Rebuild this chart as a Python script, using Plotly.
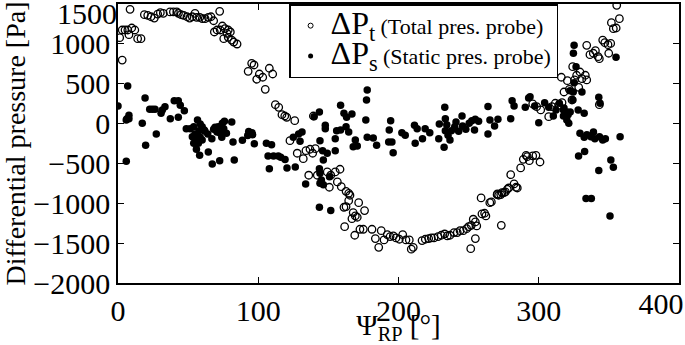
import plotly.graph_objects as go

# ΔPt (total pressure probe) – open circles
pt_x = [1.2, 3, 3, 5, 7, 7.8, 8.6, 9.8, 12, 14, 16.4, 18.8, 21.2, 23.5, 25.9, 28.3, 30.2, 32.3,
        37.1, 39.5, 41.9, 43.1, 45, 46.8, 49.2, 51.1, 53, 54.9, 56.1, 58.3, 60.1, 62.1, 64.4, 66.3,
        68.2, 68.7, 70.6, 72.5, 72.9, 74.4, 75.4, 76.3, 77.7, 78.6, 78.6, 80.1, 81.1, 82.5, 84.9,
        92.8, 95.3, 97, 98.9, 100.8, 103.2, 105, 107.9, 110.3, 112.2, 114.6, 116.9, 118.9, 120.3,
        122.6, 126, 127.8, 132.1, 134, 136, 136.9, 138.8, 139.3, 140.7, 142.1, 149.2, 150.7, 151.7,
        154.9, 156.4, 158.3, 159.2, 161.1, 161.6, 162.6, 162.6, 164.5, 164.5, 165.4, 166.8, 167.7,
        168.8, 169.2, 170.6, 171.6, 172.5, 174.9, 175.8, 181.1, 183.5, 185.9, 187.7, 189.7, 192,
        194, 196.3, 198.2, 200.6, 203, 205.3, 207.7, 209.1, 210.5, 216.8, 219.1, 221.5, 223.4,
        225.3, 228.2, 230.5, 232.9, 234.8, 236.7, 239.6, 241.9, 243.9, 246.2, 248.6, 250, 251.5,
        251.9, 253.3, 254.8, 254.8, 255.8, 258.9, 259.5, 261.4, 262.3, 265.1, 266.2, 270.3, 270.5,
        271.4, 272.9, 273.3, 273.8, 275.2, 276.2, 277.6, 278.6, 280, 282.4, 283.8, 284.7, 287.1,
        289, 291, 291.8, 293.3, 295.7, 298, 300.9, 295.7, 298.5, 301.4, 307.1, 309.4, 311.8, 314.2,
        316.6, 316.1, 318, 320.4, 321.8, 323.7, 324.2, 325.6, 327, 328.5, 329.4, 330.8, 333.2,
        334.2, 334.2, 336.5, 338.9, 340.4, 342.3, 343.2, 343.2, 345.6, 347.1, 349.4, 349.9, 351.3,
        351.8, 353.2, 355.2, 355.6, 357.5]
pt_y = [1077, 797, 1174, 1174, 1174, 1115, 1433, 1199, 1174, 1065, 1065, 1366, 1358, 1340, 1324,
        1374, 1391, 1383, 1400, 1400, 1400, 1383, 1366, 1358, 1340, 1324, 1340, 1383, 1333, 1333,
        1316, 1316, 1333, 1340, 1290, 1149, 1174, 1408, 1174, 1224, 1065, 1190, 1132, 1174, 1082,
        1149, 1048, 1023, 998, 655, 756, 735, 556, 622, 581, 430, 694, 622, 237, 204, 112, 95, 79,
        -214, 36, -372, -440, -340, -648, -322, -372, 95, -315, -648, -607, -799, -648, -607, -732,
        -573, -791, -1050, -1293, -850, -1042, -875, -967, -899, -1193, -1117, -1401, -1159, -1175,
        -992, -1326, -1326, -1092, -1326, -1443, -1552, -1343, -1460, -1393, -1418, -1410, -1435,
        -1451, -1393, -1460, -1460, -1576, -1552, -1468, -1451, -1443, -1435, -1435, -1418, -1401,
        -1385, -1410, -1401, -1368, -1368, -1343, -1343, -1318, -1293, -1569, -1276, -1200, -1234,
        -1443, -1284, -933, -1134, -1125, -1159, -992, -983, -892, -882, -899, -891, -1276, -866,
        -866, -858, -824, -808, -641, -757, -799, -808, -557, -448, -398, -415, -465, -406, -398,
        -482, 246, 212, 171, 87, 212, 255, 229, 262, 581, 396, 538, 430, 296, 714, 547, 606, 455,
        647, 563, 606, 547, 982, 864, 882, 914, 839, 814, 237, 1048, 1015, 990, 882, 1006, 1266,
        1190, 1199, 1483, 1316]

# ΔPs (static pressure probe) – filled circles
ps_x = [0, 5.9, 5.9, 6.4, 6.9, 7.8, 7.8, 17.3, 19.3, 19.7, 22.6, 24.5, 26.4, 27.3, 30.7, 31.6,
        33.5, 37.3, 40.1, 43, 43, 44.4, 47.3, 48.7, 51.5, 53, 54, 54, 54.9, 55.9, 55.9, 56.7, 57.3,
        57.8, 58.2, 58.6, 58.6, 60, 60, 61.5, 62, 64, 64.4, 66.9, 67.2, 68.2, 69.2, 70.6, 71.5,
        72.5, 72.9, 74, 74.4, 75.4, 75.9, 77.3, 81.1, 82, 82.9, 88.7, 93.2, 92.5, 95.5, 96, 97.2,
        105.8, 109.5, 107, 110.9, 114.3, 116, 119.1, 107.9, 120.5, 126.4, 133.8, 125, 128.8, 131.2,
        129.8, 139.8, 143.6, 144, 145.9, 147.8, 147.8, 149.2, 154.9, 146.4, 143.6, 144, 145, 146.4,
        144, 150.8, 143.6, 151.7, 158.7, 161.1, 163, 166.8, 155.9, 158.7, 162.6, 164.5, 154.9,
        169.2, 167.7, 170.6, 177.7, 176.7, 177.7, 177.2, 182, 184.4, 194.4, 193.4, 193, 195.3,
        196.2, 202.4, 204.8, 211.4, 213.3, 211.9, 219, 222.3, 217.1, 229.1, 228.7, 233, 233.4,
        234.4, 232.5, 233.4, 235.3, 236.7, 237.7, 240.1, 241, 242.9, 245.3, 245.7, 248, 250.4,
        252.3, 254.7, 257.1, 254.2, 263.8, 263.8, 265.2, 268.5, 270.9, 281, 282.4, 280, 290.4,
        293.8, 292.8, 297.1, 300, 304.2, 307.1, 310.4, 312.3, 314.7, 317.6, 318, 320, 320.9, 317.6,
        320, 321.4, 322.3, 322.4, 324.3, 324.6, 325.2, 326.6, 324.7, 325.2, 328.1, 330.8, 332.4,
        329.4, 332.4, 334.3, 337.2, 339, 340, 343.3, 345.6, 347.5, 328.4, 332.7, 333.7, 337.5,
        342.8, 342.8, 343.7, 351.4, 353.2, 350.8, 355.1, 358]
ps_y = [221, 45, -473, 61, 471, 104, 61, 4, 321, -272, 179, 179, 179, -130, 129, 171, 212, 61, 287,
        287, 79, 229, 162, -64, -64, -164, -39, -247, -130, -206, -323, 45, -247, -89, -398, -5,
        -172, -39, -206, -80, -96, -130, -357, -189, -507, -71, -46, -105, -39, -465, -122, -172, 4,
        -64, 29, -122, 20, -230, -457, -210, -100, -150, -114, -139, -252, -247, -265, -406, -406,
        -406, -423, -452, -566, -557, -545, -757, -172, -130, -105, -222, 87, 145, -214, -340, -21,
        -64, -372, -340, -457, -566, -624, -708, -767, -749, -666, -1050, -1092, 230, 129, 79, 121,
        -89, -80, -39, -105, -189, -206, -290, -281, 422, 46, -172, 296, -181, -272, 36, -80, -230,
        -230, -365, -114, -147, -21, -64, -247, -64, -114, -189, -5, -189, 204, 61, -14, -297, -89,
        -147, -206, -89, -39, 20, -96, 96, -30, -71, 4, 36, 54, 29, -80, 213, -130, 45, -30, 54, 287,
        221, 61, 204, 337, 321, 221, 11, 262, 204, 95, 171, 254, 171, 196, 145, 112, 95, 45, 4, 413,
        145, 296, 396, 513, 714, 882, 982, 171, 396, 129, -122, -172, -139, -164, -105, -189, -164,
        -206, -189, -408, -349, -941, -941, -590, 330, 254, -457, -548, -1160, 831, -164]

x_ticks = [0, 100, 200, 300, 400]
y_ticks = [1500, 1000, 500, 0, -500, -1000, -1500, -2000]
X_RANGE = [0, 400]
Y_RANGE = [-2000, 1500]

FONT = "Liberation Serif"
TICK_SIZE = 30


def fmt(v):
    return ("−" + str(-v)) if v < 0 else str(v)


fig = go.Figure()
fig.add_trace(go.Scatter(x=pt_x, y=pt_y, mode="markers", showlegend=False,
                         marker=dict(symbol="circle-open", size=7.5, color="black",
                                     line=dict(width=1.3, color="black"))))
fig.add_trace(go.Scatter(x=ps_x, y=ps_y, mode="markers", showlegend=False,
                         marker=dict(symbol="circle", size=7.5, color="black")))
# legend entries (small markers as in the reference)
fig.add_trace(go.Scatter(x=[None], y=[None], mode="markers",
                         name="<span style='font-size:32px'>ΔP<sub>t</sub></span> "
                              "<span style='font-size:22px'>(Total pres. probe)</span>",
                         marker=dict(symbol="circle-open", size=5, color="black",
                                     line=dict(width=1, color="black"))))
fig.add_trace(go.Scatter(x=[None], y=[None], mode="markers",
                         name="<span style='font-size:32px'>ΔP<sub>s</sub></span> "
                              "<span style='font-size:22px'>(Static pres. probe)</span>",
                         marker=dict(symbol="circle", size=5, color="black")))
# helper trace for the overlay axes carrying the edge tick labels
fig.add_trace(go.Scatter(x=[None], y=[None], xaxis="x2", yaxis="y2", showlegend=False,
                         hoverinfo="skip"))

axis_common = dict(showline=True, linecolor="black", linewidth=1.5, mirror="ticks",
                   ticks="inside", ticklen=6, tickwidth=1, tickcolor="black",
                   showgrid=False, zeroline=False, automargin=False,
                   tickfont=dict(family=FONT, size=TICK_SIZE, color="black"))

fig.update_layout(
    xaxis=dict(range=X_RANGE, tickvals=x_ticks,
               ticktext=[fmt(v) if v != x_ticks[-1] else "" for v in x_ticks],
               title=dict(text="Ψ<sub>RP</sub> [°]",
                          font=dict(family=FONT, size=29, color="black"), standoff=4),
               **axis_common),
    yaxis=dict(range=Y_RANGE, tickvals=y_ticks,
               ticktext=[fmt(v) if v != y_ticks[0] else "" for v in y_ticks],
               title=dict(text="Differential pressure [Pa]",
                          font=dict(family=FONT, size=28, color="black"), standoff=2),
               **axis_common),
    xaxis2=dict(range=X_RANGE, overlaying="x", anchor="y", side="bottom",
                tickvals=[x_ticks[-1]], ticktext=[fmt(x_ticks[-1])],
                ticks="", showline=False, showgrid=False, zeroline=False, automargin=False,
                ticklabelshift=-18, ticklabeloverflow="allow",
                tickfont=dict(family=FONT, size=TICK_SIZE, color="black")),
    yaxis2=dict(range=Y_RANGE, overlaying="y", anchor="x", side="left",
                tickvals=[y_ticks[0]], ticktext=[fmt(y_ticks[0])],
                ticks="", showline=False, showgrid=False, zeroline=False, automargin=False,
                ticklabelshift=9, ticklabeloverflow="allow",
                tickfont=dict(family=FONT, size=TICK_SIZE, color="black")),
)

fig.update_layout(
    width=685, height=345,
    margin=dict(l=118, r=6, t=4, b=62, autoexpand=False),
    paper_bgcolor="white", plot_bgcolor="white",
    font=dict(family=FONT, color="black"),
    legend=dict(x=0.305, y=1.0, xanchor="left", yanchor="top",
                bgcolor="white", bordercolor="black", borderwidth=1.5,
                font=dict(family=FONT, size=21, color="black"),
                itemwidth=30, tracegroupgap=0),
)

fig.write_html("out.html", config={"displayModeBar": False},
               post_script="document.body.style.margin='0';")
